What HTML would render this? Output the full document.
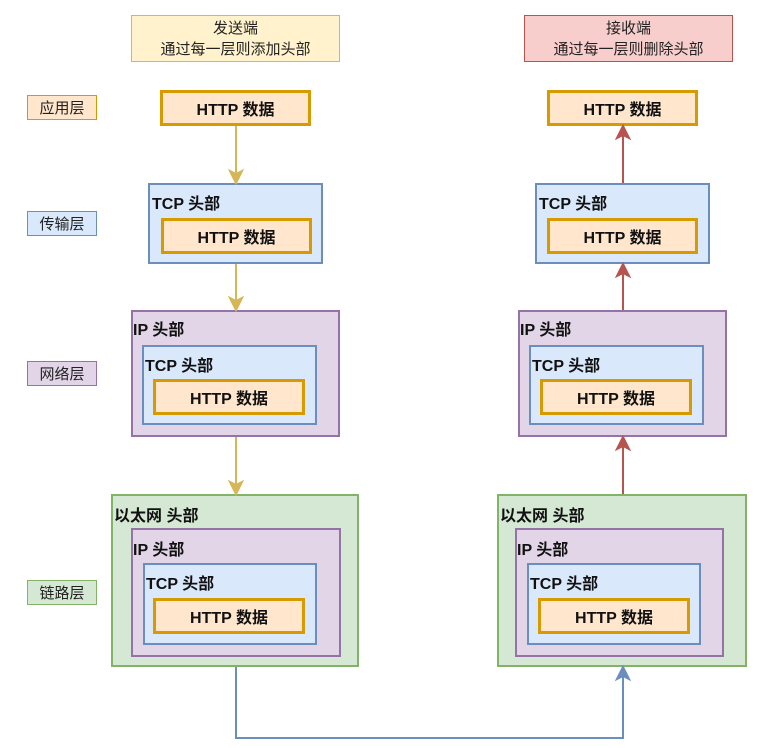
<!DOCTYPE html>
<html><head><meta charset="utf-8"><style>
body{margin:0;width:765px;height:748px;background:#fff;position:relative;overflow:hidden;font-family:"Liberation Sans","Noto Sans CJK SC",sans-serif;}
.b{position:absolute;box-sizing:border-box;}
.h{background:#ffe6cc;border:3px solid #d79b00;font-weight:bold;font-size:16px;color:#111;display:flex;align-items:center;justify-content:center;}
.t{background:#dae8fc;border:2px solid #6c8ebf;}
.i{background:#e1d5e7;border:2px solid #9673a6;}
.e{background:#d5e8d4;border:2px solid #82b366;}
.lb{position:absolute;font-weight:bold;font-size:16px;color:#111;}
.lay{position:absolute;box-sizing:border-box;left:27px;width:70px;height:25px;font-size:15px;display:flex;align-items:center;justify-content:center;color:#222;}
.hd{position:absolute;box-sizing:border-box;top:15px;width:209px;height:47px;font-size:15px;text-align:center;line-height:21px;padding-top:2px;color:#222;}
</style></head><body>
<div class="hd" style="left:131px;background:#fff2cc;border:1px solid #d6b656;">发送端<br>通过每一层则添加头部</div>
<div class="hd" style="left:524px;background:#f8cecc;border:1px solid #b85450;">接收端<br>通过每一层则删除头部</div>

<div class="lay" style="top:95px;background:#ffe6cc;border:1px solid #d79b00;">应用层</div>
<div class="lay" style="top:211px;background:#dae8fc;border:1px solid #6c8ebf;">传输层</div>
<div class="lay" style="top:361px;background:#e1d5e7;border:1px solid #9673a6;">网络层</div>
<div class="lay" style="top:580px;background:#d5e8d4;border:1px solid #82b366;">链路层</div>

<!-- left -->
<div class="b h" style="left:160px;top:90px;width:151px;height:36px;">HTTP 数据</div>
<div class="b t" style="left:148px;top:183px;width:175px;height:81px;"></div>
<div class="lb" style="left:152px;top:190px;">TCP 头部</div>
<div class="b h" style="left:161px;top:218px;width:151px;height:36px;">HTTP 数据</div>

<div class="b i" style="left:131px;top:310px;width:209px;height:127px;"></div>
<div class="lb" style="left:133px;top:316px;">IP 头部</div>
<div class="b t" style="left:142px;top:345px;width:175px;height:80px;"></div>
<div class="lb" style="left:145px;top:352px;">TCP 头部</div>
<div class="b h" style="left:153px;top:379px;width:152px;height:36px;">HTTP 数据</div>

<div class="b e" style="left:111px;top:494px;width:248px;height:173px;"></div>
<div class="lb" style="left:114px;top:502px;">以太网 头部</div>
<div class="b i" style="left:131px;top:528px;width:210px;height:129px;"></div>
<div class="lb" style="left:133px;top:536px;">IP 头部</div>
<div class="b t" style="left:143px;top:563px;width:174px;height:82px;"></div>
<div class="lb" style="left:146px;top:570px;">TCP 头部</div>
<div class="b h" style="left:153px;top:598px;width:152px;height:36px;">HTTP 数据</div>

<!-- right -->
<div class="b h" style="left:547px;top:90px;width:151px;height:36px;">HTTP 数据</div>
<div class="b t" style="left:535px;top:183px;width:175px;height:81px;"></div>
<div class="lb" style="left:539px;top:190px;">TCP 头部</div>
<div class="b h" style="left:547px;top:218px;width:151px;height:36px;">HTTP 数据</div>

<div class="b i" style="left:518px;top:310px;width:209px;height:127px;"></div>
<div class="lb" style="left:520px;top:316px;">IP 头部</div>
<div class="b t" style="left:529px;top:345px;width:175px;height:80px;"></div>
<div class="lb" style="left:532px;top:352px;">TCP 头部</div>
<div class="b h" style="left:540px;top:379px;width:152px;height:36px;">HTTP 数据</div>

<div class="b e" style="left:497px;top:494px;width:250px;height:173px;"></div>
<div class="lb" style="left:500px;top:502px;">以太网 头部</div>
<div class="b i" style="left:515px;top:528px;width:209px;height:129px;"></div>
<div class="lb" style="left:517px;top:536px;">IP 头部</div>
<div class="b t" style="left:527px;top:563px;width:174px;height:82px;"></div>
<div class="lb" style="left:530px;top:570px;">TCP 头部</div>
<div class="b h" style="left:538px;top:598px;width:152px;height:36px;">HTTP 数据</div>

<svg width="765" height="748" style="position:absolute;left:0;top:0;">
<g stroke="#d6b656" stroke-width="2" fill="#d6b656">
<line x1="236" y1="126" x2="236" y2="174"/><polygon points="230,171 236,183 242,171 236,174"/>
<line x1="236" y1="264" x2="236" y2="301"/><polygon points="230,298 236,310 242,298 236,301"/>
<line x1="236" y1="437" x2="236" y2="485"/><polygon points="230,482 236,494 242,482 236,485"/>
</g>
<g stroke="#b85450" stroke-width="2" fill="#b85450">
<line x1="623" y1="183" x2="623" y2="135"/><polygon points="617,138 623,126 629,138 623,135"/>
<line x1="623" y1="310" x2="623" y2="273"/><polygon points="617,276 623,264 629,276 623,273"/>
<line x1="623" y1="494" x2="623" y2="446"/><polygon points="617,449 623,437 629,449 623,446"/>
</g>
<g stroke="#6c8ebf" stroke-width="2" fill="#6c8ebf">
<polyline fill="none" points="236,667 236,738 623,738 623,676"/>
<polygon points="617,679 623,667 629,679 623,676"/>
</g>
</svg>
</body></html>
